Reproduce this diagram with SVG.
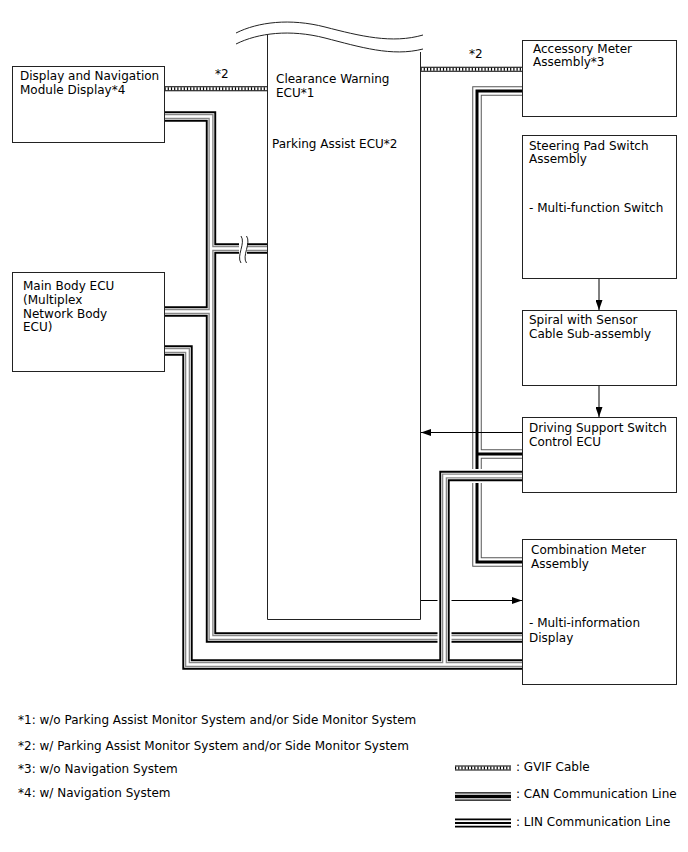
<svg xmlns="http://www.w3.org/2000/svg" width="688" height="852" viewBox="0 0 688 852">
<style>
text{font-family:"DejaVu Sans","Liberation Sans",sans-serif;font-size:12px;fill:#000}
.box{fill:#fff;stroke:#222;stroke-width:1}
.ln{fill:none;stroke:#222;stroke-width:1}
.w{fill:none;stroke-linejoin:miter;stroke-linecap:butt}
.halo{stroke:#fff;stroke-width:14}
.p1a{stroke:#000;stroke-width:10.4}
.p1b{stroke:#fff;stroke-width:6.6}
.p1c{stroke:#888;stroke-width:5.2}
.p1d{stroke:#fff;stroke-width:2.4}
.p2a{stroke:#555;stroke-width:9.5}
.p2b{stroke:#fff;stroke-width:7.5}
.p2c{stroke:#000;stroke-width:3}
.g1{stroke:#000;stroke-width:5}
.g2{stroke:#fff;stroke-width:3}
.g3{stroke:#000;stroke-width:3;stroke-dasharray:1.2 2}
.arr{fill:none;stroke:#000;stroke-width:1;marker-end:url(#ah)}
</style>
<defs>
<marker id="ah" markerWidth="10" markerHeight="7" refX="10" refY="3.5" orient="auto" markerUnits="userSpaceOnUse"><path d="M0,0L10,3.5L0,7z" fill="#000"/></marker>
<path id="n1" d="M164.5,116.5H211V637.5H522.5M211,248.5H267.5M164.5,311.5H211"/>
<path id="n2" d="M164.5,350.5H187.5V664.5H522.5M522.5,476H444.5V664.5"/>
<path id="n3" d="M522.5,91H477V562H522.5M477,454H522.5"/>
<path id="gl" d="M164.5,88.7H267.5"/>
<path id="gr" d="M420.5,69.2H522.5"/>
</defs>

<g id="connectors">
  <use href="#gl" class="w g1"/><use href="#gl" class="w g2"/><use href="#gl" class="w g3"/>
  <use href="#gr" class="w g1"/><use href="#gr" class="w g2"/><use href="#gr" class="w g3"/>
  <use href="#n1" class="w p1a"/><use href="#n1" class="w p1b"/><use href="#n1" class="w p1c"/><use href="#n1" class="w p1d"/>
  <rect x="239" y="242" width="8" height="14" fill="#fff"/>
  <path class="ln" d="M241,236C246,243 236,256 241,263M246.5,236C251.5,243 241.5,256 246.5,263"/>
  <use href="#n3" class="w p2a"/><use href="#n3" class="w p2b"/><use href="#n3" class="w p2c"/>
  <path class="arr" d="M599,278.5V310"/>
  <path class="arr" d="M599,385.5V417"/>
  <path class="arr" d="M522,432.5H421"/>
  <path class="arr" d="M420.5,600.5H522"/>
  <use href="#n2" class="w halo"/>
  <use href="#n2" class="w p1a"/><use href="#n2" class="w p1b"/><use href="#n2" class="w p1c"/><use href="#n2" class="w p1d"/>
  <text x="215" y="78">*2</text>
  <text x="469" y="58">*2</text>
</g>

<g id="central-ecu">
  <path class="ln" d="M267.5,35V619.5H420.5V52"/>
  <path class="ln" d="M236,33C258,22 290,18 325,27C360,36 392,44 423,35"/>
  <path class="ln" d="M236,44C258,33 290,29 325,38C360,47 392,57 423,49"/>
  <text x="276" y="83">Clearance Warning</text>
  <text x="276" y="97">ECU*1</text>
  <text x="272" y="148">Parking Assist ECU*2</text>
</g>

<g id="display-nav">
  <rect class="box" x="12.5" y="66.5" width="152" height="76"/>
  <text x="20" y="80">Display and Navigation</text>
  <text x="20" y="94">Module Display*4</text>
</g>

<g id="main-body-ecu">
  <rect class="box" x="12.5" y="272.5" width="152" height="99"/>
  <text x="23" y="290">Main Body ECU</text>
  <text x="23" y="304">(Multiplex</text>
  <text x="23" y="318">Network Body</text>
  <text x="23" y="331">ECU)</text>
</g>

<g id="accessory-meter">
  <rect class="box" x="522.5" y="40.5" width="154" height="76"/>
  <text x="533" y="53">Accessory Meter</text>
  <text x="533" y="66">Assembly*3</text>
</g>

<g id="steering-pad">
  <rect class="box" x="522.5" y="135.5" width="154" height="143"/>
  <text x="529" y="150">Steering Pad Switch</text>
  <text x="529" y="163">Assembly</text>
  <text x="529" y="212">- Multi-function Switch</text>
</g>

<g id="spiral-cable">
  <rect class="box" x="522.5" y="310.5" width="154" height="75"/>
  <text x="529" y="324">Spiral with Sensor</text>
  <text x="529" y="338">Cable Sub-assembly</text>
</g>

<g id="driving-support">
  <rect class="box" x="522.5" y="417.5" width="154" height="75"/>
  <text x="529" y="432">Driving Support Switch</text>
  <text x="529" y="446">Control ECU</text>
</g>

<g id="combination-meter">
  <rect class="box" x="522.5" y="539.5" width="154" height="145"/>
  <text x="531" y="554">Combination Meter</text>
  <text x="531" y="568">Assembly</text>
  <text x="529" y="627">- Multi-information</text>
  <text x="529" y="642">Display</text>
</g>

<g id="notes">
  <text x="18" y="724">*1: w/o Parking Assist Monitor System and/or Side Monitor System</text>
  <text x="18" y="750">*2: w/ Parking Assist Monitor System and/or Side Monitor System</text>
  <text x="18" y="773">*3: w/o Navigation System</text>
  <text x="18" y="797">*4: w/ Navigation System</text>
</g>

<g id="legend">
  <path class="w g1" d="M455,768H511"/><path class="w g2" d="M455,768H511"/><path class="w g3" d="M455,768H511"/>
  <text x="516" y="771">: GVIF Cable</text>
  <path class="w" stroke="#000" stroke-width="8.5" d="M455,796.5H511"/>
  <path class="w" stroke="#fff" stroke-width="6" d="M455,796.5H511"/>
  <path class="w" stroke="#000" stroke-width="3.5" d="M455,796.5H511"/>
  <text x="516" y="798">: CAN Communication Line</text>
  <path class="w" stroke="#000" stroke-width="9" d="M455,823H511"/>
  <path class="w" stroke="#fff" stroke-width="5.4" d="M455,823H511"/>
  <path class="w" stroke="#000" stroke-width="1.8" d="M455,823H511"/>
  <text x="516" y="826">: LIN Communication Line</text>
</g>
</svg>
